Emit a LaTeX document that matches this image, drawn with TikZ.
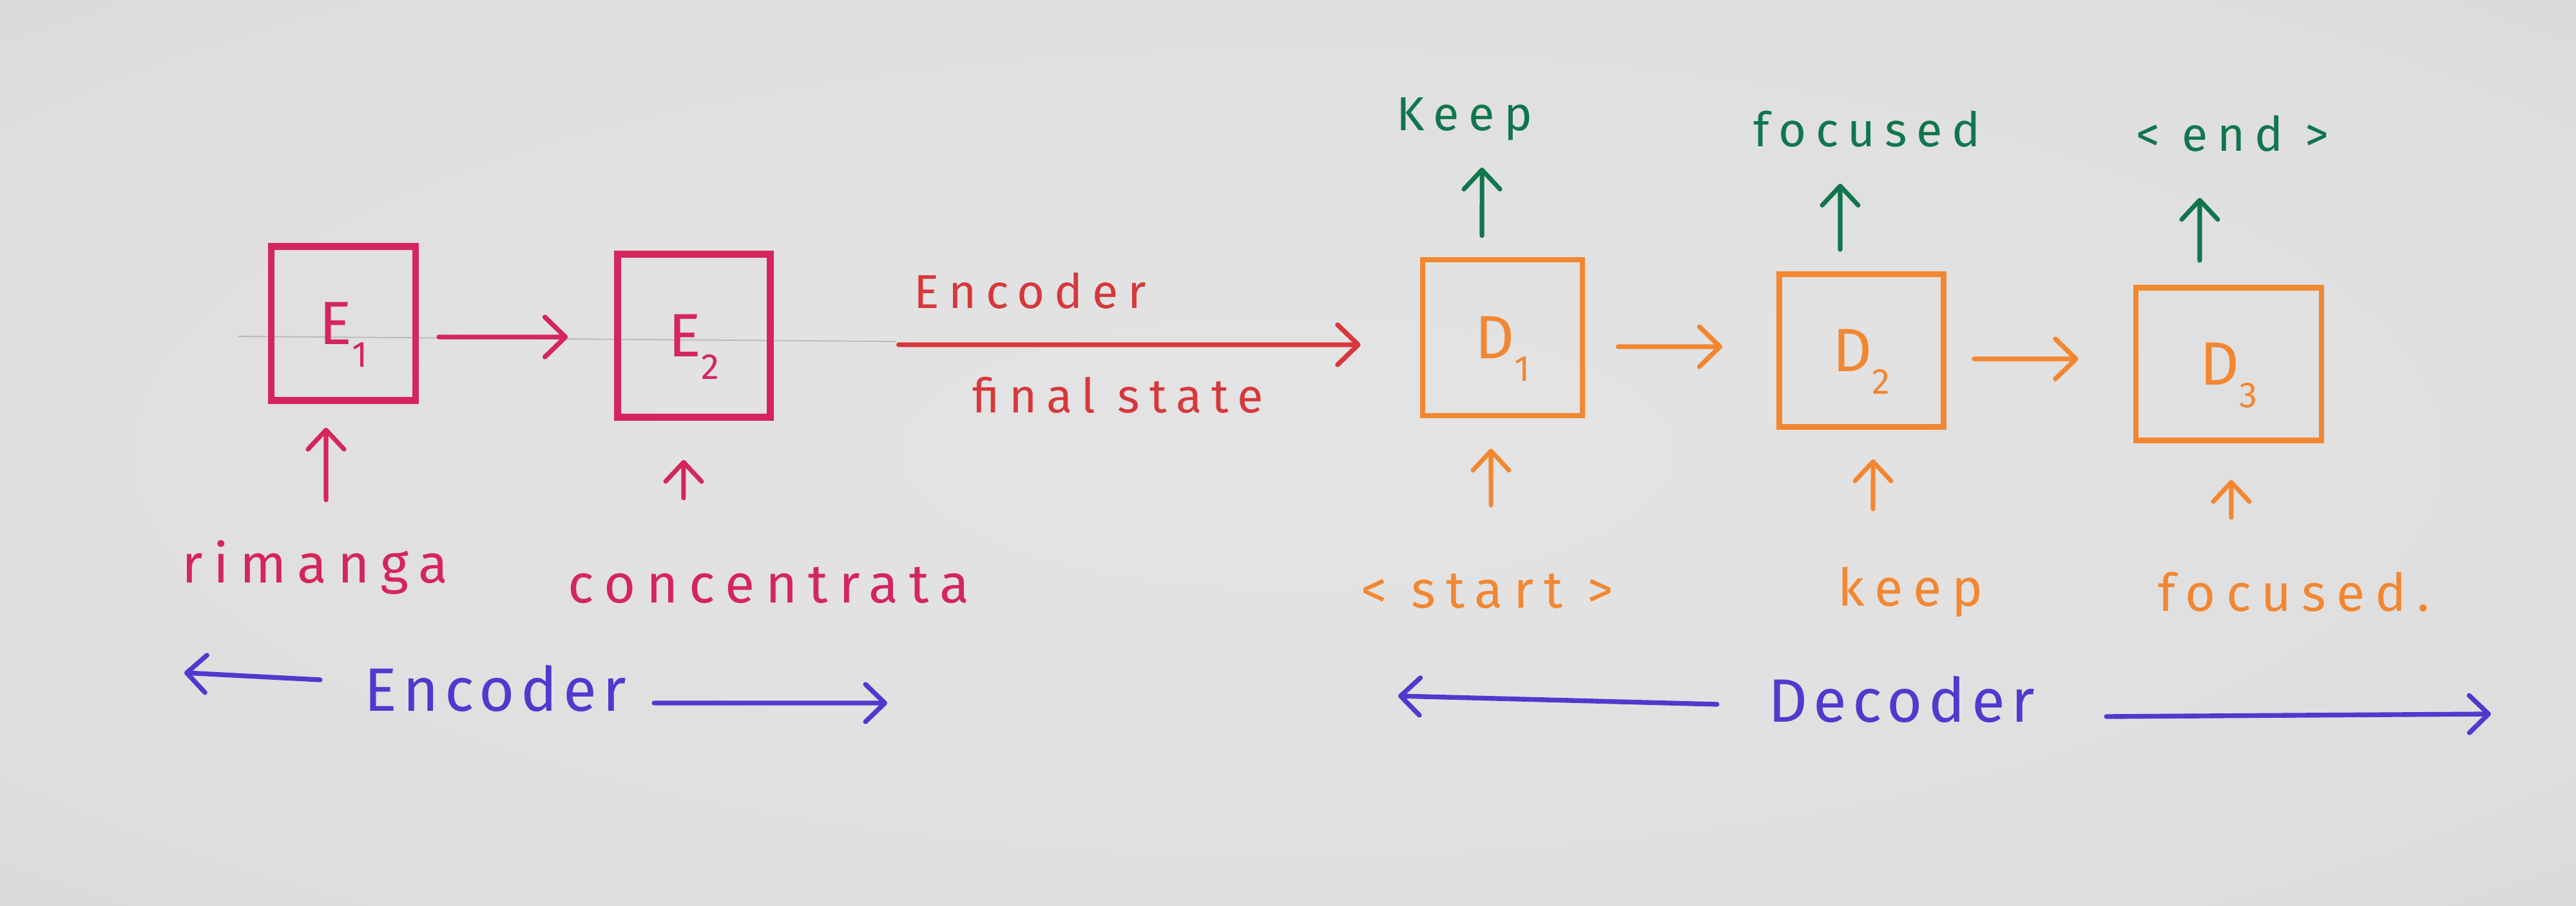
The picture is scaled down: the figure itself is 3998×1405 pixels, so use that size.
\documentclass[tikz,border=0pt]{standalone}
\usepackage{fontspec}
\setmainfont{Fira Sans}
\newfontfamily\hand{Fira Sans}[LetterSpace=20]
\newfontfamily\handb{Fira Sans}[LetterSpace=10]
\usetikzlibrary{arrows.meta}
\definecolor{paperin}{RGB}{228,228,228}
\definecolor{papermid}{RGB}{222,222,222}
\definecolor{paperout}{RGB}{208,208,208}
\definecolor{emag}{RGB}{212,38,92}
\definecolor{ered}{RGB}{214,56,60}
\definecolor{dorange}{RGB}{242,135,50}
\definecolor{dgreen}{RGB}{16,118,78}
\definecolor{dblue}{RGB}{80,58,205}
\definecolor{pencil}{RGB}{185,185,185}
\pgfdeclareradialshading{paper}{\pgfpoint{0bp}{0bp}}{color(0bp)=(paperin); color(30bp)=(papermid); color(50bp)=(paperout); color(75bp)=(paperout)}
\newcommand\lowidx[1]{\smash{\raisebox{-10pt}{\fontsize{16}{16}\selectfont #1}}}
\begin{document}
\begin{tikzpicture}[x=0.01cm,y=-0.01cm,
  cell/.style={draw, rectangle, inner sep=0pt, font=\fontsize{27}{27}\selectfont},
  ecell/.style={cell, line width=2.9pt, draw=emag, text=emag},
  dcell/.style={cell, line width=2.4pt, draw=dorange, text=dorange},
  conn/.style={line width=2.1pt, line cap=round, -{Straight Barb[length=3.2mm,width=6.2mm,round]}},
  upconn/.style={line width=2pt, line cap=round, -{Straight Barb[length=3mm,width=5.6mm,round]}},
  bconn/.style={line width=2.1pt, draw=dblue, line cap=round, -{Straight Barb[length=3mm,width=5.8mm,round]}},
  redl/.style={text=emag, font=\hand\fontsize{24}{24}\selectfont, inner sep=0pt, anchor=base},
  rdl/.style={text=ered, font=\hand\fontsize{21}{21}\selectfont, inner sep=0pt, anchor=base},
  orl/.style={text=dorange, font=\hand\fontsize{23}{23}\selectfont, inner sep=0pt, anchor=base},
  grl/.style={text=dgreen, font=\hand\fontsize{21}{21}\selectfont, inner sep=0pt, anchor=base},
  bll/.style={text=dblue, font=\handb\fontsize{27}{27}\selectfont, inner sep=0pt, anchor=base}
]
\useasboundingbox (0,0) rectangle (3998,1405);
\shade[shading=paper] (0,0) rectangle (3998,1405);
% faint pencil guide line
\draw[pencil, line width=0.5pt] (370,522) -- (1390,530);

% cells
\node[ecell, minimum width=2.24cm, minimum height=2.39cm] (E1) at (533,502) {E\lowidx{1}};
\node[ecell, minimum width=2.37cm, minimum height=2.53cm] (E2) at (1077,521) {E\lowidx{2}};
\node[dcell, minimum width=2.48cm, minimum height=2.42cm] (D1) at (2332,524) {D\lowidx{1}};
\node[dcell, minimum width=2.55cm, minimum height=2.37cm] (D2) at (2889,544) {D\lowidx{2}};
\node[dcell, minimum width=2.88cm, minimum height=2.37cm] (D3) at (3459,565) {D\lowidx{3}};

% labels
\node[redl] (r1) at (489,904) {rimanga};
\node[redl] (r2) at (1193,935) {concentrata};
\node[orl] (o1) at (2308,943) {< start >};
\node[orl] (o2) at (2965,940) {keep};
\node[orl] (o3) at (3560,948) {focused.};
\node[grl] (g1) at (2273,202) {Keep};
\node[grl] (g2) at (2898,227) {focused};
\node[grl] (g3) at (3465,234) {< end >};
\node[rdl] (t1) at (1599,478) {Encoder};
\node[rdl] (t2) at (1735,640) {final state};
\node[bll] (b1) at (769,1103) {Encoder};
\node[bll] (b2) at (2951,1120) {Decoder};

% horizontal connectors
\draw[conn, draw=emag] ([xshift=0.31cm,yshift=-0.21cm]E1.east) -- ([xshift=-0.72cm,yshift=-0.02cm]E2.west);
\draw[conn, draw=ered] ([xshift=1.94cm,yshift=-0.14cm]E2.east) -- ([xshift=-0.92cm,yshift=-0.11cm]D1.west);
\draw[conn, draw=dorange] ([xshift=0.51cm,yshift=-0.14cm]D1.east) -- ([xshift=-0.84cm,yshift=0.06cm]D2.west);
\draw[conn, draw=dorange] ([xshift=0.43cm,yshift=-0.13cm]D2.east) -- ([xshift=-0.85cm,yshift=0.08cm]D3.west);

% inputs
\draw[upconn, draw=emag] ([xshift=0.17cm,yshift=1.28cm]r1.base) -- ([xshift=-0.27cm,yshift=-0.37cm]E1.south);
\draw[upconn, draw=emag] ([xshift=-1.32cm,yshift=1.62cm]r2.base) -- ([xshift=-0.16cm,yshift=-0.61cm]E2.south);
\draw[upconn, draw=dorange] ([xshift=0.06cm,yshift=1.59cm]o1.base) -- ([xshift=-0.18cm,yshift=-0.47cm]D1.south);
\draw[upconn, draw=dorange] ([xshift=-0.58cm,yshift=1.50cm]o2.base) -- ([xshift=0.18cm,yshift=-0.46cm]D2.south);
\draw[upconn, draw=dorange] ([xshift=-0.97cm,yshift=1.45cm]o3.base) -- ([xshift=0.04cm,yshift=-0.57cm]D3.south);

% outputs
\draw[upconn, draw=dgreen] ([xshift=-0.32cm,yshift=0.33cm]D1.north) -- ([xshift=0.27cm,yshift=-0.58cm]g1.base);
\draw[upconn, draw=dgreen] ([xshift=-0.33cm,yshift=0.34cm]D2.north) -- ([xshift=-0.42cm,yshift=-0.58cm]g2.base);
\draw[upconn, draw=dgreen] ([xshift=-0.45cm,yshift=0.38cm]D3.north) -- ([xshift=-0.51cm,yshift=-0.73cm]g3.base);

% encoder / decoder spans
\coordinate (encL) at (286,1044);
\coordinate (encR) at (1377,1091);
\coordinate (decL) at (2170,1080);
\coordinate (decR) at (3866,1108);
\draw[bconn] ([xshift=-2.72cm,yshift=0.48cm]b1.base) -- (encL);
\draw[bconn] ([xshift=2.46cm,yshift=0.12cm]b1.base) -- (encR);
\draw[bconn] ([xshift=-2.86cm,yshift=0.27cm]b2.base) -- (decL);
\draw[bconn] ([xshift=3.18cm,yshift=0.08cm]b2.base) -- (decR);
\end{tikzpicture}
\end{document}
